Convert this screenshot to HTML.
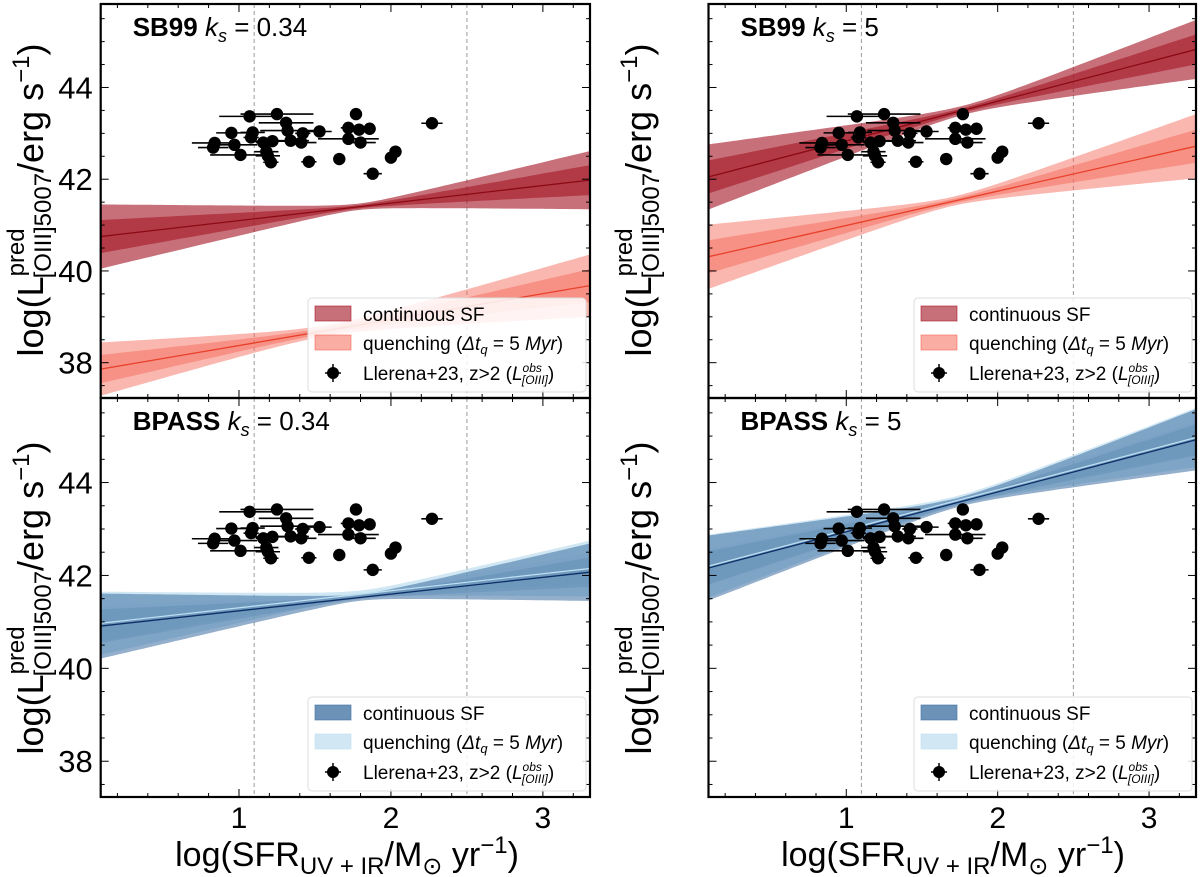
<!DOCTYPE html>
<html><head><meta charset="utf-8"><style>
body{margin:0;background:#fff;}
svg{display:block;font-family:"Liberation Sans","DejaVu Sans",sans-serif;}
</style></head><body>
<svg id="fig" width="1200" height="877" viewBox="0 0 1200 877" xmlns="http://www.w3.org/2000/svg"></svg>
<script>
// ---- data ----
const obsX = [1.07,1.25,0.95,1.09,1.08,0.84,0.83,0.97,1.01,1.16,1.22,1.18,1.19,1.21,1.31,1.32,1.34,1.42,1.41,1.53,1.46,1.66,1.77,1.72,1.79,1.86,1.72,1.80,1.88,2.00,2.03,2.27];
const obsY = [43.37,43.42,43.01,43.02,42.91,42.79,42.69,42.75,42.53,42.80,42.83,42.60,42.51,42.37,43.23,43.06,42.84,43.00,42.80,43.04,42.38,42.44,43.42,43.12,43.08,43.10,42.88,42.80,42.12,42.47,42.60,43.22];
const obsXerr = [0.2,0.24,0.1,0.08,0.05,0.15,0.1,0.15,0.2,0.05,0.12,0.08,0.08,0.05,0.18,0.18,0.12,0.05,0.1,0.08,0.05,0.03,0.03,0.05,0.03,0.03,0.2,0.1,0.06,0.03,0.03,0.07];
// band params: [center at xmin, center at xmax, pivot x, pivot half-width, edge outer half-width, edge inner half-width]
const tlCont = [40.75,41.98,1.78,0.07,0.70,0.36];
const tlQuench = [37.86,39.68,1.57,0.12,0.68,0.36];
const trCont = [42.05,44.83,1.78,0.10,0.71,0.36];
const trQuench = [40.31,42.72,1.70,0.10,0.70,0.36];
const blCont = [40.91,42.07,1.80,0.07,0.70,0.36];
const blQuench = [40.97,42.15,1.80,0.08,0.68,0.38];
const brCont = [42.16,44.92,1.75,0.10,0.70,0.36];
const brQuench = [42.20,44.97,1.75,0.10,0.68,0.38];
const xTicks = [1,2,3];
const yTicks = [38,40,42,44];
const vLines = [1.1,2.5];
const xMin = 0.09, xMax = 3.31, yMin = 37.23, yMax = 45.82;

const NS = "http://www.w3.org/2000/svg";
const svg = document.getElementById('fig');
function el(tag, attrs, parent){const e=document.createElementNS(NS,tag);for(const k in attrs)e.setAttribute(k,attrs[k]);(parent||svg).appendChild(e);return e;}

const panels = [
 {name:'sb99-ks034', x0:100.7,x1:590,y0:4,y1:398, cont:tlCont, q:tlQuench, theme:'red', lab:'0.34', model:'SB99', left:true, bottom:false},
 {name:'sb99-ks5', x0:708.5,x1:1196,y0:4,y1:398, cont:trCont, q:trQuench, theme:'red', lab:'5', model:'SB99', left:false, bottom:false},
 {name:'bpass-ks034', x0:100.7,x1:590,y0:398,y1:797, cont:blCont, q:blQuench, theme:'blue', lab:'0.34', model:'BPASS', left:true, bottom:true},
 {name:'bpass-ks5', x0:708.5,x1:1196,y0:398,y1:797, cont:brCont, q:brQuench, theme:'blue', lab:'5', model:'BPASS', left:false, bottom:true},
];
const themes = {
 red:{cont:'rgb(165,25,38)', contA:0.62, contLine:'#8b0a14', q:'rgb(245,105,88)', qA:0.48, qLine:'#e8402a'},
 blue:{cont:'rgb(60,110,160)', contA:0.55, contLine:'#0d2f66', q:'rgb(190,222,240)', qA:0.7, qLine:'#bfe0f2'}
};

let clipId=0;
panels.forEach(p=>{
  const g = el('g',{});
  
  
  const sx = v => p.x0 + (v-xMin)/(xMax-xMin)*(p.x1-p.x0);
  const sy = v => p.y1 - (v-yMin)/(yMax-yMin)*(p.y1-p.y0);
  const cid='clip'+(clipId++);
  const defs=el('defs',{},g);
  const cp=el('clipPath',{id:cid},defs);
  el('rect',{x:p.x0,y:p.y0,width:p.x1-p.x0,height:p.y1-p.y0},cp);
  const plot=el('g',{'clip-path':'url(#'+cid+')'},g);
  
  
  vLines.forEach(v=>{
    const l=el('line',{x1:sx(v),x2:sx(v),y1:p.y0,y2:p.y1,stroke:'#999','stroke-width':1,'stroke-dasharray':'4,3'},plot);
    
    
  });
  const th=themes[p.theme];
  function band(par, color, alpha, innerA, line, nm){
    const [cl,cr,xp,w0,we,wi]=par;
    const slope=(cr-cl)/(xMax-xMin);
    const c=x=>cl+slope*(x-xMin);
    const dmax=Math.max(xp-xMin,xMax-xp);
    const ko=Math.sqrt(Math.max(we*we-w0*w0,0))/dmax;
    const wi0=w0*wi/we;
    const ki=Math.sqrt(Math.max(wi*wi-wi0*wi0,0))/dmax;
    const N=80, xs=[];
    for(let i=0;i<=N;i++)xs.push(xMin+(xMax-xMin)*i/N);
    function poly(w0_,k_){
      const up=xs.map(x=>[sx(x),sy(c(x)+Math.sqrt(w0_*w0_+(k_*(x-xp))**2))]);
      const dn=xs.map(x=>[sx(x),sy(c(x)-Math.sqrt(w0_*w0_+(k_*(x-xp))**2))]).reverse();
      return up.concat(dn).map(q=>q[0].toFixed(1)+','+q[1].toFixed(1)).join(' ');
    }
    const o=el('polygon',{points:poly(w0,ko),fill:color,'fill-opacity':alpha},plot);
    
    
    const i2=el('polygon',{points:poly(wi0,ki),fill:color,'fill-opacity':innerA},plot);
    
    
    const ln=el('line',{x1:sx(xMin),y1:sy(c(xMin)),x2:sx(xMax),y2:sy(c(xMax)),stroke:line,'stroke-width':1.3},plot);
    
    
  }
  if(p.theme==='red'){
    band(p.cont, th.cont, th.contA, th.contA, th.contLine, 'continuous-sf');
    band(p.q, th.q, th.qA, th.qA, th.qLine, 'quenching');
  } else {
    band(p.q, th.q, th.qA, 0.3, th.qLine, 'quenching');
    band(p.cont, th.cont, th.contA, 0.2, th.contLine, 'continuous-sf');
    const [cl,cr]=p.q;
    const ql=el('line',{x1:sx(xMin),y1:sy(cl),x2:sx(xMax),y2:sy(cr),stroke:th.qLine,'stroke-width':1.2},plot);
    
    
  }
  obsX.forEach((x,i)=>{
    const y=obsY[i], e=obsXerr[i];
    const eb=el('line',{x1:sx(x-e),x2:sx(x+e),y1:sy(y),y2:sy(y),stroke:'#000','stroke-width':1.6},plot);
    
    
    const ey=el('line',{x1:sx(x),x2:sx(x),y1:sy(y+0.05),y2:sy(y-0.05),stroke:'#000','stroke-width':1.6},plot);
    
    
    const pt=el('circle',{cx:sx(x),cy:sy(y),r:6.2,fill:'#000'},plot);
    
    
  });
  const tk=el('g',{stroke:'#000'},g);
  
  
  for(let v=0.2;v<=3.3;v+=0.2){
    const vv=Math.round(v*10)/10; if(vv<xMin) continue;
    const major=Math.abs(vv-Math.round(vv))<1e-6;
    const L=major?8:4;
    el('line',{x1:sx(vv),x2:sx(vv),y1:p.y1,y2:p.y1-L,'stroke-width':1},tk);
    el('line',{x1:sx(vv),x2:sx(vv),y1:p.y0,y2:p.y0+L,'stroke-width':1},tk);
  }
  for(let v=37.5;v<=45.5;v+=0.5){
    const major=Math.abs(v%2)<1e-6;
    const L=major?8:4;
    el('line',{x1:p.x0,x2:p.x0+L,y1:sy(v),y2:sy(v),'stroke-width':1},tk);
    el('line',{x1:p.x1,x2:p.x1-L,y1:sy(v),y2:sy(v),'stroke-width':1},tk);
  }
  if(p.left){
    yTicks.forEach(v=>{
      const t=el('text',{x:p.x0-8,y:sy(v)+11,'font-size':31,'text-anchor':'end',fill:'#000'},g);
      t.textContent=v;
      
      
    });
  }
  if(p.bottom){
    xTicks.forEach(v=>{
      const t=el('text',{x:sx(v),y:p.y1+31,'font-size':30,'text-anchor':'middle',fill:'#000'},g);
      t.textContent=v;
      
      
    });
  }
  const fr=el('rect',{x:p.x0,y:p.y0,width:p.x1-p.x0,height:p.y1-p.y0,fill:'none',stroke:'#000','stroke-width':2.2},g);
  
  
  const tt=el('text',{x:p.x0+32,y:p.y0+32,'font-size':26,fill:'#000'},g);
  
  
  tt.innerHTML='<tspan font-weight="bold">'+p.model+'</tspan> <tspan font-style="italic">k</tspan><tspan font-style="italic" font-size="18" dy="6">s</tspan><tspan dy="-6"> = '+p.lab+'</tspan>';
  const lx=p.x1-282, ly=p.y1-100;
  const lg=el('g',{},g);
  
  
  el('rect',{x:lx,y:ly,width:278,height:94,rx:4,fill:'#fff','fill-opacity':0.85,stroke:'#ddd','stroke-width':1},lg);
  const c1=el('rect',{x:lx+7,y:ly+8,width:36,height:15,fill:th.cont,'fill-opacity':p.theme==='red'?0.62:0.75,stroke:th.cont,'stroke-opacity':0.6},lg);
  
  
  const c2=el('rect',{x:lx+7,y:ly+37,width:36,height:15,fill:th.q,'fill-opacity':p.theme==='red'?0.55:0.7,stroke:th.q,'stroke-opacity':0.6},lg);
  
  
  const m=el('g',{},lg);
  
  
  el('circle',{cx:lx+25,cy:ly+75,r:6,fill:'#000'},m);
  el('line',{x1:lx+17,x2:lx+33,y1:ly+75,y2:ly+75,stroke:'#000','stroke-width':1.5},m);
  el('line',{x1:lx+25,x2:lx+25,y1:ly+66,y2:ly+84,stroke:'#000','stroke-width':1.5},m);
  const t1=el('text',{x:lx+55,y:ly+23,'font-size':19,fill:'#000'},lg);
  t1.textContent='continuous SF';
  
  
  const t2=el('text',{x:lx+55,y:ly+52,'font-size':19,fill:'#000'},lg);
  t2.innerHTML='quenching (<tspan font-style="italic">Δt</tspan><tspan font-style="italic" font-size="13" dy="4">q</tspan><tspan dy="-4"> = 5 </tspan><tspan font-style="italic">Myr</tspan>)';
  
  
  const t3=el('text',{x:lx+55,y:ly+82,'font-size':19,fill:'#000'},lg);
  t3.innerHTML='Llerena+23, z&gt;2 (<tspan font-style="italic">L</tspan><tspan font-style="italic" font-size="12" dy="-8">obs</tspan><tspan font-style="italic" font-size="12" dx="-20" dy="12">[OIII]</tspan><tspan dy="-4">)</tspan>';
  
  
});

function ylab(cx,cy,nm){
  const t=el('text',{transform:'translate('+cx+','+cy+') rotate(-90)','font-size':36,'text-anchor':'middle',fill:'#000'});
  t.innerHTML='log(L<tspan font-size="24" dy="-19">pred</tspan><tspan font-size="24" dx="-50" dy="27">[OIII]5007</tspan><tspan dy="-8">/erg s</tspan><tspan font-size="24" dy="-14">−1</tspan><tspan dy="14">)</tspan>';
  
  
}
ylab(43,200,'y-axis-title-top-left');
ylab(43,598,'y-axis-title-bottom-left');
ylab(651,200,'y-axis-title-top-right');
ylab(651,598,'y-axis-title-bottom-right');
function xlab(cx,nm){
  const t=el('text',{x:cx,y:866,'font-size':34,'text-anchor':'middle',fill:'#000'});
  t.innerHTML='log(SFR<tspan font-size="24" dy="8">UV + IR</tspan><tspan dy="-8">/M</tspan><tspan font-size="24" dy="8">⊙</tspan><tspan dy="-8"> yr</tspan><tspan font-size="24" dy="-13">−1</tspan><tspan dy="13">)</tspan>';
  
  
}
xlab(347,'x-axis-title-left');
xlab(953,'x-axis-title-right');
</script>
</body></html>
